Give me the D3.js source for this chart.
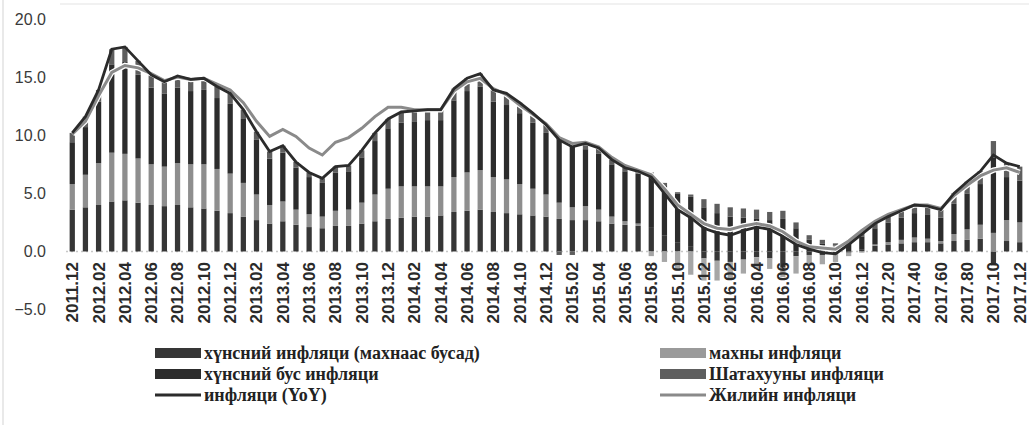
<!DOCTYPE html>
<html>
<head>
<meta charset="utf-8">
<script src="https://cdn.jsdelivr.net/npm/d3@7"></script>
<style>
body { margin: 0; background: #fff; }
svg { display: block; }
.yAxis text { font-family: "Liberation Sans", Arial, sans-serif; font-size: 16px; fill: #3a3a3a; }
.xAxis text { font-family: "Liberation Sans", Arial, sans-serif; font-size: 17px; font-weight: bold; fill: #2a2a2a; }
.legend text { font-family: "Liberation Serif", "Times New Roman", serif; font-size: 18px; font-weight: bold; fill: #222; }
</style>
</head>
<body>
<svg id="chart" width="1029" height="425"></svg>
<script>

// months shown as bars (2011.12 .. 2017.12)
var months = [
	"2011.12",
	"2012.01","2012.02","2012.03","2012.04","2012.05","2012.06","2012.07","2012.08","2012.09","2012.10","2012.11","2012.12",
	"2013.01","2013.02","2013.03","2013.04","2013.05","2013.06","2013.07","2013.08","2013.09","2013.10","2013.11","2013.12",
	"2014.01","2014.02","2014.03","2014.04","2014.05","2014.06","2014.07","2014.08","2014.09","2014.10","2014.11","2014.12",
	"2015.01","2015.02","2015.03","2015.04","2015.05","2015.06","2015.07","2015.08","2015.09","2015.10","2015.11","2015.12",
	"2016.01","2016.02","2016.03","2016.04","2016.05","2016.06","2016.07","2016.08","2016.09","2016.10","2016.11","2016.12",
	"2017.01","2017.02","2017.03","2017.04","2017.05","2017.06","2017.07","2017.08","2017.09","2017.10","2017.11","2017.12"
];

// tick labels as printed (every second month)
var tickLabels = [
	"2011.12","2012.02","2012.04","2012.06","2012.08","2012.10","2012.12",
	"2013.02","2013.04","2013.06","2013.08","2013.10","2013.12",
	"2014.02","2014.04","2014.06","2014.08","2014.10","2014.12",
	"2015.02","2015.04","2015.06","2015.08","2015.10","2015.12",
	"2016.02","2016.04","2016.06","2016.08","2016.10","2016.12",
	"2017.20","2017.40","2017.60","2017.80","2017.10","2017.12"
];

// хүнсний инфляци (махнаас бусад)
var foodExMeat = [
	3.6,
	3.8,4.0,4.3,4.4,4.2,4.0,3.9,4.0,3.8,3.7,3.5,3.3,
	3.0,2.7,2.4,2.6,2.3,2.1,2.0,2.2,2.2,2.4,2.6,2.8,
	2.9,3.0,3.0,3.1,3.4,3.5,3.6,3.4,3.3,3.2,3.1,3.0,
	2.8,2.7,2.7,2.6,2.4,2.3,2.2,2.1,1.4,0.8,0.4,-0.6,
	-0.8,-0.9,-0.7,-0.5,-0.6,-1.4,-0.4,-0.3,-0.3,-0.2,-0.1,0.2,
	0.5,0.6,0.7,0.8,0.8,0.7,0.9,1.0,1.1,-1.2,0.9,0.8
];

// махны инфляци
var meat = [
	2.2,
	2.8,3.6,4.2,4.0,3.8,3.5,3.4,3.6,3.7,3.8,3.6,3.4,
	2.9,2.2,1.6,1.7,1.3,1.1,1.0,1.3,1.4,1.8,2.3,2.6,
	2.7,2.6,2.6,2.5,3.0,3.3,3.4,3.0,2.9,2.6,2.3,1.9,
	1.4,1.1,1.2,1.0,0.6,0.3,0.2,-0.4,-0.9,-1.5,-2.0,-1.9,
	-1.7,-1.5,-1.2,-1.0,-0.9,-0.8,-1.5,-0.9,-0.8,-0.7,-0.3,-0.1,
	0.1,0.2,0.3,0.4,0.3,0.2,0.6,0.9,1.2,1.6,1.8,1.7
];

// хүнсний бус инфляци
var nonFood = [
	3.6,
	4.1,5.3,7.6,7.9,7.2,6.6,6.3,6.5,6.3,6.4,6.1,6.0,
	5.5,4.7,4.0,4.2,3.6,3.2,2.9,3.3,3.3,3.9,4.6,5.2,
	5.5,5.6,5.7,5.7,6.6,7.0,7.2,6.5,6.4,6.1,5.7,5.3,
	5.7,5.5,4.9,4.8,4.5,4.3,4.3,4.5,4.3,4.2,4.3,3.8,
	3.3,3.0,2.9,2.8,2.7,2.8,2.0,1.0,0.7,0.5,0.7,1.1,
	1.4,1.7,1.9,2.1,2.1,2.0,2.6,3.1,3.5,6.5,3.7,3.6
];

// Шатахууны инфляци
var fuel = [
	0.8,
	0.9,1.0,1.3,1.3,1.2,1.1,1.0,1.0,1.0,1.0,1.0,0.9,
	0.8,0.7,0.6,0.6,0.5,0.4,0.4,0.5,0.5,0.6,0.7,0.8,
	0.9,0.9,0.9,0.9,1.0,1.1,1.1,1.0,1.0,0.9,0.8,0.7,
	-0.3,-0.3,0.5,0.5,0.4,0.3,0.2,0.2,0.2,0.1,0.2,0.7,
	0.8,0.8,0.8,0.8,0.7,0.7,0.5,0.4,0.3,0.2,0.3,0.3,
	0.4,0.5,0.6,0.7,0.7,0.7,0.9,1.0,1.1,1.4,1.2,1.2
];

// инфляци (YoY)
var inflationYoY = [
	10.2,
	11.6,13.9,17.4,17.6,16.4,15.2,14.6,15.1,14.8,14.9,14.2,13.6,
	12.2,10.3,8.6,9.1,7.7,6.8,6.3,7.3,7.4,8.7,10.2,11.4,
	12.0,12.1,12.2,12.2,14.0,14.9,15.3,13.9,13.6,12.8,11.9,10.9,
	9.6,9.0,9.3,8.9,7.9,7.2,6.9,6.4,5.0,3.6,2.9,2.0,
	1.6,1.4,1.8,2.1,1.9,1.3,0.6,0.2,-0.1,-0.2,0.6,1.5,
	2.4,3.0,3.5,4.0,3.9,3.6,5.0,6.0,6.9,8.3,7.6,7.3
];

// Жилийн инфляци
var inflationAnnual = [
	10.1,
	11.2,13.4,15.4,16.0,15.8,15.3,14.7,15.0,14.8,14.9,14.4,13.9,
	12.8,11.2,9.9,10.5,9.9,8.9,8.3,9.4,9.8,10.6,11.6,12.4,
	12.4,12.2,12.2,12.2,13.8,14.6,14.9,14.0,13.5,12.6,11.8,11.0,
	9.8,9.3,9.4,9.0,8.1,7.4,7.0,6.6,5.4,4.0,3.2,2.4,
	2.0,1.9,2.2,2.4,2.2,1.7,0.9,0.4,0.3,0.2,0.9,1.8,
	2.6,3.2,3.6,4.0,4.0,3.7,4.8,5.7,6.5,7.0,7.2,6.8
];

var yTicks = [-5, 0, 5, 10, 15, 20];

var barKeys = ["foodExMeat", "meat", "nonFood", "fuel"];
var barColors = { foodExMeat: "#363636", meat: "#8e8e8e", nonFood: "#2c2c2c", fuel: "#5e5e5e" };

var legendItems = [
	{ label: "хүнсний инфляци (махнаас бусад)", type: "bar", color: "#363636", col: 0, row: 0 },
	{ label: "махны инфляци", type: "bar", color: "#9a9a9a", col: 1, row: 0 },
	{ label: "хүнсний бус инфляци", type: "bar", color: "#2c2c2c", col: 0, row: 1 },
	{ label: "Шатахууны инфляци", type: "bar", color: "#5e5e5e", col: 1, row: 1 },
	{ label: "инфляци (YoY)", type: "line", color: "#2b2b2b", col: 0, row: 2 },
	{ label: "Жилийн инфляци", type: "line", color: "#8a8a8a", col: 1, row: 2 }
];

function drawChart()
{
	var svg = d3.select("#chart");

	svg.append("rect")
		.attr("width", 1029)
		.attr("height", 425)
		.attr("fill", "#fff");

	// scan frame remnants
	svg.append("line")
		.attr("x1", 3).attr("x2", 3)
		.attr("y1", 0).attr("y2", 425)
		.attr("stroke", "#e2e2e2")
		.attr("stroke-width", 1.5);
	svg.append("line")
		.attr("x1", 60).attr("x2", 1029)
		.attr("y1", 4).attr("y2", 4)
		.attr("stroke", "#ececec")
		.attr("stroke-width", 1.5);

	var x = d3.scaleBand()
		.domain(months)
		.range([67, 1025])
		.paddingInner(0.6)
		.paddingOuter(0.2);

	var y = d3.scaleLinear()
		.domain([-5, 20])
		.range([309.6, 19]);

	var table = months.map(function(m, i)
	{
		return {
			month: m,
			foodExMeat: foodExMeat[i],
			meat: meat[i],
			nonFood: nonFood[i],
			fuel: fuel[i]
		};
	});

	var series = d3.stack()
		.keys(barKeys)
		.offset(d3.stackOffsetDiverging)(table);

	// zero line
	svg.append("line")
		.attr("x1", 66).attr("x2", 1029)
		.attr("y1", y(0)).attr("y2", y(0))
		.attr("stroke", "#c8c8c8")
		.attr("stroke-width", 1.5)
		.attr("stroke-dasharray", "2,3");

	svg.append("g")
		.selectAll("g")
		.data(series)
		.enter()
		.append("g")
		.attr("fill", function(d)
		{
			return barColors[d.key];
		})
		.selectAll("rect")
		.data(function(d) { return d; })
		.enter()
		.append("rect")
		.attr("x", function(d) { return x(d.data.month); })
		.attr("y", function(d) { return y(Math.max(d[0], d[1])); })
		.attr("width", x.bandwidth())
		.attr("height", function(d) { return Math.abs(y(d[0]) - y(d[1])); })
		.attr("fill", function(d)
		{
			// negative meat bars show lighter in the print
			if (d3.select(this.parentNode).datum().key === "meat" && d[1] <= 0) return "#a6a6a6";
			return null;
		});

	var line = d3.line()
		.x(function(d, i) { return x(months[i]) + x.bandwidth() / 2; })
		.y(function(d) { return y(d); });

	svg.append("path")
		.datum(inflationAnnual)
		.attr("fill", "none")
		.attr("stroke", "#fff")
		.attr("stroke-width", 5.5)
		.attr("d", line);

	svg.append("path")
		.datum(inflationAnnual)
		.attr("fill", "none")
		.attr("stroke", "#8a8a8a")
		.attr("stroke-width", 3)
		.attr("d", line);

	svg.append("path")
		.datum(inflationYoY)
		.attr("fill", "none")
		.attr("stroke", "#2b2b2b")
		.attr("stroke-width", 2.8)
		.attr("d", line);

	var yAxis = d3.axisLeft(y)
		.tickValues(yTicks)
		.tickSize(0)
		.tickPadding(0)
		.tickFormat(d3.format(".1f"));

	svg.append("g")
		.attr("class", "yAxis")
		.attr("transform", "translate(46,0)")
		.call(yAxis)
		.call(function(g) { g.select(".domain").remove(); });

	var tickMonths = months.filter(function(m, i) { return i % 2 === 0; });

	var xAxis = d3.axisBottom(x)
		.tickValues(tickMonths)
		.tickSize(0)
		.tickFormat(function(d, i) { return tickLabels[i]; });

	var gx = svg.append("g")
		.attr("class", "xAxis")
		.attr("transform", "translate(0,262)")
		.call(xAxis);
	gx.select(".domain").remove();
	gx.selectAll("text")
		.attr("transform", "rotate(-90)")
		.attr("x", 0)
		.attr("y", 0)
		.attr("dy", "0.35em")
		.attr("text-anchor", "end");

	// legend
	var legend = svg.append("g").attr("class", "legend");
	var colX = [155, 660];
	var rowY = [353, 374, 395];

	legendItems.forEach(function(item)
	{
		var lx = colX[item.col];
		var ly = rowY[item.row];
		if (item.type === "bar") {
			legend.append("rect")
				.attr("x", lx)
				.attr("y", ly - 5)
				.attr("width", 46)
				.attr("height", 10)
				.attr("fill", item.color);
		}
		else {
			legend.append("line")
				.attr("x1", lx).attr("x2", lx + 46)
				.attr("y1", ly).attr("y2", ly)
				.attr("stroke", item.color)
				.attr("stroke-width", 3);
		}
		legend.append("text")
			.attr("x", lx + 49)
			.attr("y", ly)
			.attr("dy", "0.35em")
			.text(item.label);
	});
}

drawChart();
</script>
</body>
</html>
